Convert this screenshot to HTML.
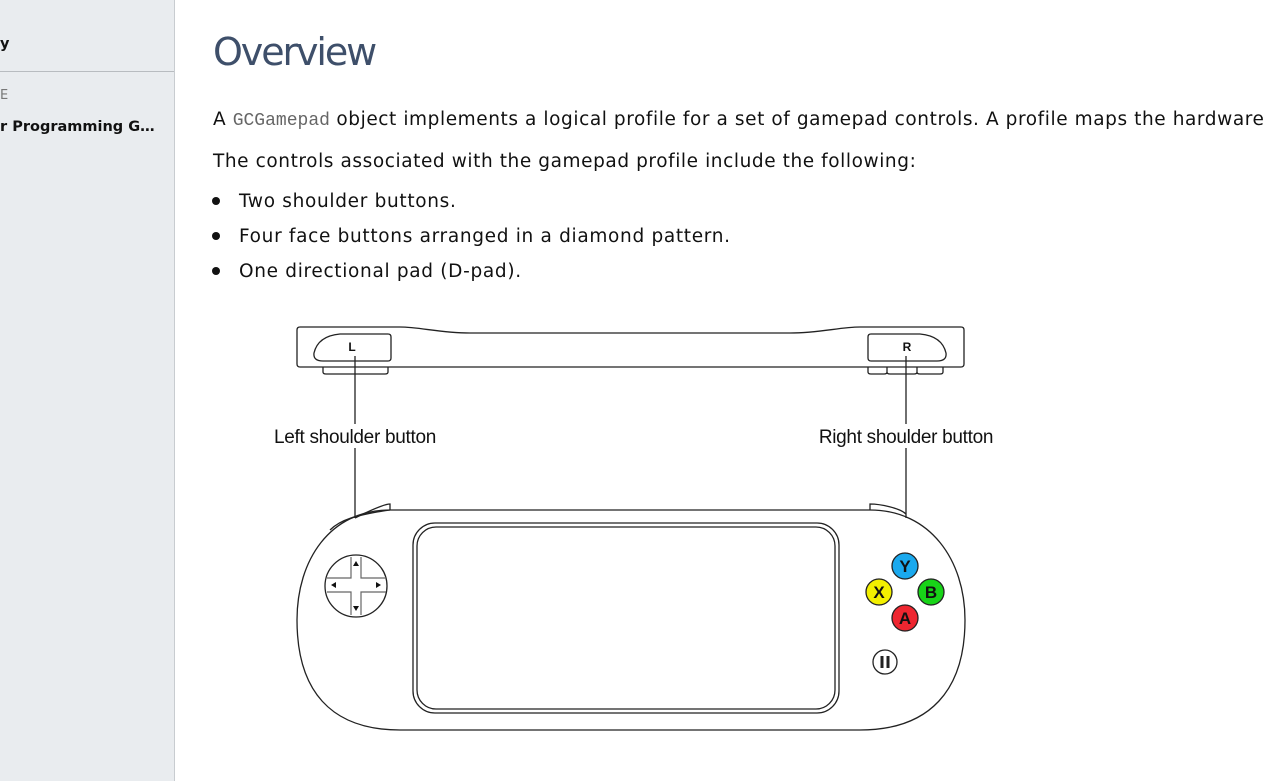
<!DOCTYPE html>
<html><head><meta charset="utf-8"><style>
html,body{margin:0;padding:0;width:1280px;height:781px;overflow:hidden;background:#fff;font-family:"DejaVu Sans",sans-serif;}
#side{position:absolute;left:0;top:0;width:174px;height:781px;background:#e9ecef;border-right:1px solid #c8ccd0;}
#side .a{position:absolute;left:0;top:36px;font-weight:bold;font-size:14.5px;color:#111;}
#side .sep{position:absolute;left:0;top:71px;width:174px;height:1px;background:#b8bcc0;}
#side .b{position:absolute;left:0;top:88px;font-size:13px;color:#777;}
#side .c{position:absolute;left:0;top:119px;font-weight:bold;font-size:14.5px;color:#111;white-space:nowrap;}
h1{position:absolute;left:213px;top:30px;margin:0;font-weight:normal;font-size:38px;color:#3e4f6a;font-family:"DejaVu Sans",sans-serif;letter-spacing:-2.1px;}
.p{position:absolute;left:213px;font-size:18.5px;letter-spacing:0.58px;color:#111;white-space:nowrap;}
code{font-family:"Liberation Mono",monospace;color:#666;font-size:18px;letter-spacing:0;}
.li{position:absolute;left:239px;font-size:18.5px;letter-spacing:0.68px;color:#111;white-space:nowrap;}
.dot{position:absolute;left:212px;width:8px;height:8px;border-radius:50%;background:#111;}
svg{position:absolute;left:0;top:0;}
</style></head><body>
<div id="side"><div class="a">y</div><div class="sep"></div><div class="b">E</div><div class="c">r Programming G…</div></div>
<h1>Overview</h1>
<div class="p" style="top:109px">A <code>GCGamepad</code> object implements a logical profile for a set of gamepad controls. A profile maps the hardware</div>
<div class="p" style="top:151px">The controls associated with the gamepad profile include the following:</div>
<div class="dot" style="top:197px"></div><div class="li" style="top:191px">Two shoulder buttons.</div>
<div class="dot" style="top:232px"></div><div class="li" style="top:226px">Four face buttons arranged in a diamond pattern.</div>
<div class="dot" style="top:267px"></div><div class="li" style="top:261px">One directional pad (D-pad).</div>
<svg width="1280" height="781" viewBox="0 0 1280 781" fill="none" stroke="#222" stroke-width="1.3" font-family="Liberation Sans, sans-serif">
<path d="M300 327 H400 C420 327 440 333 470 333 H790 C820 333 840 327 860 327 H961 Q964 327 964 330 V364 Q964 367 961 367 H300 Q297 367 297 364 V330 Q297 327 300 327 Z"/>
<path d="M323 361 Q313 361 314 353 Q318 336 340 334 H388 Q391 334 391 337 V358 Q391 361 388 361 Z"/>
<path d="M937 361 Q947 361 946 353 Q942 336 920 334 H871 Q868 334 868 337 V358 Q868 361 871 361 Z"/>
<path d="M323 367 V372 Q323 374 326 374 H385 Q388 374 388 372 V367"/>
<path d="M868 367 V372 Q868 374 871 374 H884 Q887 374 887 372 V367 M887 367 V372 Q887 374 890 374 H914 Q917 374 917 372 V367 M917 367 V372 Q917 374 920 374 H940 Q943 374 943 372 V367"/>
<text x="352" y="351" font-size="12" fill="#111" stroke="none" text-anchor="middle" font-weight="bold">L</text>
<text x="907" y="351" font-size="12" fill="#111" stroke="none" text-anchor="middle" font-weight="bold">R</text>
<path d="M355 356 V424 M355 448 V518 M906 356 V424 M906 448 V518"/>
<text x="355" y="443" font-size="19" fill="#111" stroke="none" text-anchor="middle" letter-spacing="-0.3">Left shoulder button</text>
<text x="906" y="443" font-size="19" fill="#111" stroke="none" text-anchor="middle" letter-spacing="-0.3">Right shoulder button</text>
<path d="M390 510 H870 C930 510 965 560 965 620 C965 690 930 730 860 730 H400 C330 730 297 690 297 620 C297 560 330 510 390 510 Z"/>
<path d="M355 518 C375 508 385 504 390 504 V510 M870 510 V504 C880 504 900 508 906 514"/>
<path d="M330 530 C340 520 355 515 390 510" />
<rect x="413" y="523" width="426" height="190" rx="22"/>
<rect x="417" y="527" width="418" height="182" rx="19"/>
<circle cx="356" cy="586" r="31"/>
<path d="M351 557 V578 H327 M361 557 V578 H386 M327 592 H351 V615 M386 592 H361 V615" stroke="#666" stroke-width="1.2"/>
<path d="M356 561 l-3 5 h6 z M356 611 l-3 -5 h6 z M331 585 l5 -3 v6 z M381 585 l-5 -3 v6 z" fill="#111" stroke="none"/>
<g stroke="#222" stroke-width="1.3" font-weight="bold" font-size="17" text-anchor="middle">
<circle cx="905" cy="566" r="13" fill="#1aa9ee"/><text x="905" y="572" fill="#111" stroke="none">Y</text>
<circle cx="879" cy="592" r="13" fill="#f3f000"/><text x="879" y="598" fill="#111" stroke="none">X</text>
<circle cx="931" cy="592" r="13" fill="#18d418"/><text x="931" y="598" fill="#111" stroke="none">B</text>
<circle cx="905" cy="618" r="13" fill="#ee2630"/><text x="905" y="624" fill="#111" stroke="none">A</text>
</g>
<circle cx="885" cy="662" r="12"/>
<path d="M882 656 V668 M888 656 V668" stroke-width="3"/>
</svg>
</body></html>
